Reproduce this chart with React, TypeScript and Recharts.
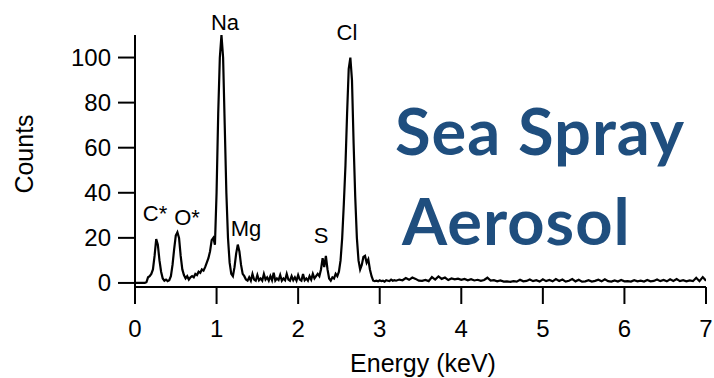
import { Line, LineChart, XAxis, YAxis } from 'recharts'

// EDX spectrum, 0.00–3.18 keV in 0.02 keV channels
const lowStep = 0.02
const lowCounts = [
  0, 0, 0, 0, 0, 0, 0, 0.3, 2.5, 3,
  4, 6, 12, 19.5, 17, 10, 5, 2, 1, 1.5,
  0.8, 1.2, 3, 8, 15, 21, 22.5, 20, 12, 6,
  3.5, 2, 3, 1.5, 2.5, 3, 2.5, 4, 3.5, 5,
  4.5, 6, 5.5, 7, 9, 11, 14, 19, 20, 17,
  40, 75, 100, 110, 100, 70, 40, 20, 9, 4,
  3, 7, 13, 17, 14, 8, 4, 3, 1.5, 1,
  2.5, 1, 4, 1.5, 1, 3.5, 1.2, 2, 1, 4,
  1.5, 2.5, 1, 3, 1.2, 4.5, 1, 2, 1.3, 3.5,
  1, 2, 1.2, 4, 1.5, 1, 3, 1.2, 2.5, 1,
  3.5, 1.5, 1, 4, 1.2, 2, 1, 3, 1.5, 4,
  2, 3, 4, 3, 6, 11, 7, 12, 6, 2,
  1, 2.5, 2, 4, 3, 5, 10, 20, 35, 52,
  75, 95, 100, 90, 62, 38, 20, 10, 6, 8,
  11.5, 12, 9, 10.5, 6, 3, 1, 0.8, 1, 0.7,
  1.2, 0.8, 1, 0.6, 1.2, 1, 0.8, 1.5, 1, 1.2,
]

// tail, 3.20–7.00 keV in 0.04 keV channels
const tailStart = 3.2
const tailStep = 0.04
const tailCounts = [
  1.0, 1.5, 1.2, 2.2, 1.4, 2.4, 1.8, 1.0, 0.9, 1.3,
  0.8, 2.6, 1.5, 2.9, 1.8, 2.4, 1.3, 2.0, 1.6, 1.9,
  1.4, 1.8, 1.2, 1.7, 1.1, 1.4, 0.9, 1.3, 2.3, 1.0,
  1.2, 0.7, 1.1, 0.6, 0.7, 0.5, 0.8, 0.6, 1.4, 0.7,
  0.9, 1.5, 0.8, 1.2, 0.6, 1.6, 0.8, 1.3, 0.7, 1.7,
  0.9, 1.5, 0.6, 1.0, 1.7, 0.7, 1.4, 0.6, 0.7, 1.2,
  0.6, 0.9, 1.4, 0.7, 1.6, 0.8, 0.6, 1.1, 0.6, 1.3,
  0.7, 0.8, 0.6, 1.2, 0.7, 1.0, 0.6, 1.3, 0.7, 0.9,
  1.5, 0.8, 1.3, 0.7, 1.6, 0.9, 1.7, 0.8, 1.2, 0.7,
  1.1, 0.8, 2.3, 0.8, 2.6, 1.0,
]

const xTicks = [0, 1, 2, 3, 4, 5, 6, 7]
const yTicks = [0, 20, 40, 60, 80, 100]

// peak labels: text, x px, baseline px
const peakLabels: [string, number, number][] = [
  ['C*', 155, 221],
  ['O*', 187, 225],
  ['Na', 225, 30],
  ['Mg', 246, 236],
  ['S', 321, 243],
  ['Cl', 347, 40],
]

const rows = [
  ...lowCounts.map((c, i) => ({ e: +(i * lowStep).toFixed(2), c })),
  ...tailCounts.map((c, i) => ({ e: +(tailStart + i * tailStep).toFixed(2), c })),
]

const font = '"Liberation Sans", Arial, sans-serif'

function XTick({ x, y, payload }: any) {
  return (
    <text x={x} y={y} dy={33} textAnchor="middle" fontSize={24} fontFamily={font} fill="#000">
      {payload.value}
    </text>
  )
}

function YTick({ x, y, payload }: any) {
  return (
    <text x={x} y={y} dy={8.5} textAnchor="end" fontSize={24} fontFamily={font} fill="#000">
      {payload.value}
    </text>
  )
}

export default function App() {
  return (
    <div style={{ position: 'absolute', left: 0, top: 0, width: 714, height: 378, background: '#fff' }}>
      <LineChart width={714} height={378} data={rows} margin={{ top: 35, right: 8, bottom: 0, left: 0 }}>
        <XAxis
          type="number"
          dataKey="e"
          domain={[0, 7]}
          ticks={xTicks}
          interval={0}
          height={91}
          tickSize={17}
          tickMargin={0}
          axisLine={{ stroke: '#000', strokeWidth: 2 }}
          tickLine={{ stroke: '#000', strokeWidth: 2 }}
          tick={XTick}
          allowDataOverflow
        />
        <YAxis
          type="number"
          domain={[-1.8, 110]}
          ticks={yTicks}
          interval={0}
          width={135}
          tickSize={17}
          tickMargin={7}
          axisLine={{ stroke: '#000', strokeWidth: 2 }}
          tickLine={{ stroke: '#000', strokeWidth: 2 }}
          tick={YTick}
          allowDataOverflow
        />
        <Line
          type="linear"
          dataKey="c"
          stroke="#000"
          strokeWidth={2.2}
          dot={false}
          isAnimationActive={false}
        />
      </LineChart>
      <svg width={714} height={378} style={{ position: 'absolute', left: 0, top: 0, pointerEvents: 'none' }}>
        <text x={0} y={0} transform="translate(33 154) rotate(-90)" textAnchor="middle" fontSize={25} fontFamily={font}>
          Counts
        </text>
        <text x={423} y={372} textAnchor="middle" fontSize={25} fontFamily={font}>
          Energy (keV)
        </text>
        {peakLabels.map(([t, x, y]) => (
          <text key={t} x={x} y={y} textAnchor="middle" fontSize={22} fontFamily={font}>
            {t}
          </text>
        ))}
        <text x={395} y={155} fontSize={65} letterSpacing={1} fontWeight={700} fontFamily="Lato, sans-serif" fill="#1f4e7e">
          Sea Spray
        </text>
        <text x={402} y={245} fontSize={65} letterSpacing={1} fontWeight={700} fontFamily="Lato, sans-serif" fill="#1f4e7e">
          Aerosol
        </text>
      </svg>
    </div>
  )
}
